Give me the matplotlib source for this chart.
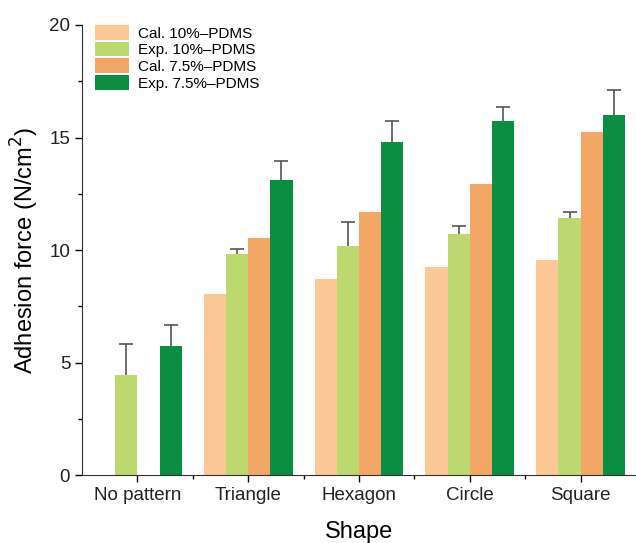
import matplotlib.pyplot as plt
from matplotlib.ticker import MultipleLocator, FixedLocator
import numpy as np

plt.rcParams['font.family'] = ['Liberation Sans', 'DejaVu Sans']

shapes = ['No pattern', 'Triangle', 'Hexagon', 'Circle', 'Square']
cal10 = [0, 8.04, 8.7, 9.25, 9.57]
exp10 = [4.44, 9.82, 10.2, 10.71, 11.42]
exp10_err = [1.38, 0.22, 1.04, 0.37, 0.28]
cal75 = [0, 10.55, 11.69, 12.95, 15.23]
exp75 = [5.72, 13.1, 14.79, 15.75, 15.99]
exp75_err = [0.96, 0.85, 0.93, 0.59, 1.12]

labels = ['Cal. 10%–PDMS', 'Exp. 10%–PDMS', 'Cal. 7.5%–PDMS', 'Exp. 7.5%–PDMS']
colors = ['#FCC896', '#BDD86F', '#F2A766', '#0A8F42']

fig = plt.figure(figsize=(6.36, 5.43), dpi=100)
ax = fig.add_axes([0.129, 0.125, 0.871, 0.829])

x = np.arange(len(shapes))
w = 0.2
series = [(cal10, None), (exp10, exp10_err), (cal75, None), (exp75, exp75_err)]
for i, (vals, err) in enumerate(series):
    pos = x + (i - 1.5) * w
    if err is None:
        ax.bar(pos, vals, w, color=colors[i], label=labels[i])
    else:
        bc = ax.bar(pos, vals, w, color=colors[i], label=labels[i],
                    yerr=[np.zeros(len(err)), err], ecolor='#555555',
                    error_kw=dict(elinewidth=1.2, capsize=5, capthick=1.2))
        # only the upper cap, like the original
        caps = bc.errorbar.lines[1]
        caps[0].set_visible(False)

ax.set_xlim(-0.5, 4.5)
ax.set_ylim(0, 20)
ax.set_xticks(x)
ax.set_xticklabels(shapes, fontsize=13.5, color='#222222')
ax.xaxis.set_minor_locator(FixedLocator(x[:-1] + 0.5))
ax.yaxis.set_major_locator(MultipleLocator(5))
ax.yaxis.set_minor_locator(MultipleLocator(2.5))
ax.tick_params(axis='y', labelsize=13.5, labelcolor='#222222')
ax.tick_params(which='major', direction='out', length=5, width=1)
ax.tick_params(which='minor', direction='out', length=3, width=1)
ax.spines['top'].set_visible(False)
ax.spines['right'].set_visible(False)
ax.spines['left'].set_color('#333333')
ax.spines['bottom'].set_color('#333333')

ax.set_xlabel('Shape', fontsize=17, labelpad=12)
ax.set_ylabel('Adhesion force (N/cm$^2$)', fontsize=17, labelpad=6)

ax.legend(loc='upper left', frameon=False, fontsize=11, handlelength=2.2,
          handleheight=1.1, labelspacing=0.08, handletextpad=0.6,
          borderaxespad=0.0, borderpad=0.0, bbox_to_anchor=(0.024, 1.0))

fig.savefig('out.png', dpi=100)
